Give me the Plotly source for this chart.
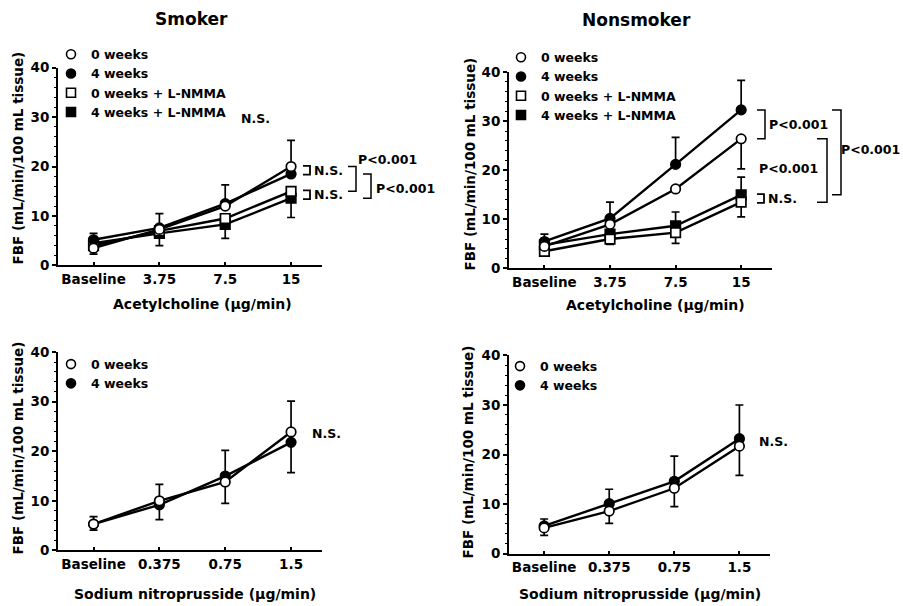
import plotly.graph_objects as go

W, H = 903, 606

# ---------------- data ----------------
ach_doses = ["Baseline", "3.75", "7.5", "15"]
snp_doses = ["Baseline", "0.375", "0.75", "1.5"]

# Smoker, acetylcholine
smk_ach_0w = [3.5, 7.3, 12.0, 20.0]
smk_ach_0w_up = [0, 0, 0, 5.3]
smk_ach_0w_dn = [1.2, 0, 0, 0]
smk_ach_4w = [5.2, 7.6, 12.5, 18.5]
smk_ach_4w_up = [1.3, 2.9, 3.8, 0]
smk_ach_4w_dn = [0, 0, 0, 0]
smk_ach_0w_nmma = [4.0, 7.0, 9.5, 15.0]
smk_ach_0w_nmma_up = [0, 0, 0, 0]
smk_ach_0w_nmma_dn = [0, 0, 0, 0]
smk_ach_4w_nmma = [4.5, 6.5, 8.3, 13.6]
smk_ach_4w_nmma_up = [0, 0, 0, 0]
smk_ach_4w_nmma_dn = [0, 2.5, 2.8, 3.9]

# Nonsmoker, acetylcholine
non_ach_0w = [4.5, 9.0, 16.2, 26.4]
non_ach_0w_up = [0, 0, 0, 0]
non_ach_0w_dn = [0, 0, 0, 6.1]
non_ach_4w = [5.5, 10.2, 21.2, 32.3]
non_ach_4w_up = [1.5, 3.3, 5.5, 6.0]
non_ach_4w_dn = [0, 0, 0, 0]
non_ach_0w_nmma = [3.5, 6.0, 7.3, 13.5]
non_ach_0w_nmma_up = [0, 0, 0, 0]
non_ach_0w_nmma_dn = [1.0, 1.1, 2.2, 3.0]
non_ach_4w_nmma = [4.8, 7.0, 8.7, 15.0]
non_ach_4w_nmma_up = [0, 0, 2.8, 3.6]
non_ach_4w_nmma_dn = [0, 0, 0, 0]

# Smoker, sodium nitroprusside
smk_snp_0w = [5.3, 10.0, 13.8, 23.9]
smk_snp_0w_up = [1.5, 3.3, 0, 6.2]
smk_snp_0w_dn = [0, 0, 4.3, 0]
smk_snp_4w = [5.3, 9.2, 15.0, 21.8]
smk_snp_4w_up = [0, 0, 5.2, 0]
smk_snp_4w_dn = [1.2, 3.0, 0, 6.1]

# Nonsmoker, sodium nitroprusside
non_snp_0w = [5.2, 8.6, 13.2, 21.7]
non_snp_0w_up = [0, 0, 0, 0]
non_snp_0w_dn = [1.5, 2.5, 3.7, 5.9]
non_snp_4w = [5.6, 10.1, 14.6, 23.2]
non_snp_4w_up = [1.4, 2.9, 5.1, 6.8]
non_snp_4w_dn = [0, 0, 0, 0]

series_names = ["0 weeks", "4 weeks", "0 weeks + L-NMMA", "4 weeks + L-NMMA"]
y_ticks = [0, 10, 20, 30, 40]

# ---------------- layout helpers ----------------
# the rendered page shows the figure with a small vertical offset/scale;
# target pixel rows are mapped back to layout rows here.
V_OFF, V_SCALE = 7.4, 0.974

def px(x):
    return x / W

def py(y):
    return 1 - ((y - V_OFF) / V_SCALE) / H

# plot areas in target pixels: (left, right, y_of_0, y_of_40)
areas = {
    1: (58, 322, 265, 67),
    2: (509, 772, 268, 71.5),
    3: (58, 322, 550, 351.7),
    4: (509, 770, 553.3, 355),
}
YR = [0, 40]
XR = [-0.54, 3.47]

def ydom(k):
    a = areas[k]
    return [py(a[2]), py(a[3])]

def yp(val, k):
    d = ydom(k)
    return d[0] + (val - YR[0]) / (YR[1] - YR[0]) * (d[1] - d[0])

styles = {
    "0 weeks": dict(symbol="circle", color="white"),
    "4 weeks": dict(symbol="circle", color="black"),
    "0 weeks + L-NMMA": dict(symbol="square", color="white"),
    "4 weeks + L-NMMA": dict(symbol="square", color="black"),
}

fig = go.Figure()

def add_series(k, x, y, up, dn, name):
    st = styles[name]
    fig.add_trace(go.Scatter(
        x=x, y=y, mode="lines+markers", name=name, showlegend=False,
        xaxis="x" if k == 1 else f"x{k}", yaxis="y" if k == 1 else f"y{k}",
        line=dict(color="black", width=2.4),
        marker=dict(symbol=st["symbol"], size=9.5, color=st["color"],
                    line=dict(color="black", width=1.7)),
        error_y=dict(type="data", symmetric=False, array=up, arrayminus=dn,
                     color="black", thickness=1.7, width=4),
        cliponaxis=False,
    ))

def add_legend(k, names):
    lg = "legend" if k == 1 else f"legend{k}"
    for name in names:
        st = styles[name]
        fig.add_trace(go.Scatter(
            x=[None], y=[None], mode="markers", name=name, legend=lg,
            xaxis="x" if k == 1 else f"x{k}", yaxis="y" if k == 1 else f"y{k}",
            marker=dict(symbol=st["symbol"], size=9, color=st["color"],
                        line=dict(color="black", width=1.6)),
        ))

# panel 1: smoker ACh
add_series(1, ach_doses, smk_ach_4w_nmma, smk_ach_4w_nmma_up, smk_ach_4w_nmma_dn, "4 weeks + L-NMMA")
add_series(1, ach_doses, smk_ach_0w_nmma, smk_ach_0w_nmma_up, smk_ach_0w_nmma_dn, "0 weeks + L-NMMA")
add_series(1, ach_doses, smk_ach_4w, smk_ach_4w_up, smk_ach_4w_dn, "4 weeks")
add_series(1, ach_doses, smk_ach_0w, smk_ach_0w_up, smk_ach_0w_dn, "0 weeks")
add_legend(1, series_names)

# panel 2: nonsmoker ACh
add_series(2, ach_doses, non_ach_4w_nmma, non_ach_4w_nmma_up, non_ach_4w_nmma_dn, "4 weeks + L-NMMA")
add_series(2, ach_doses, non_ach_0w_nmma, non_ach_0w_nmma_up, non_ach_0w_nmma_dn, "0 weeks + L-NMMA")
add_series(2, ach_doses, non_ach_4w, non_ach_4w_up, non_ach_4w_dn, "4 weeks")
add_series(2, ach_doses, non_ach_0w, non_ach_0w_up, non_ach_0w_dn, "0 weeks")
add_legend(2, series_names)

# panel 3: smoker SNP
add_series(3, snp_doses, smk_snp_4w, smk_snp_4w_up, smk_snp_4w_dn, "4 weeks")
add_series(3, snp_doses, smk_snp_0w, smk_snp_0w_up, smk_snp_0w_dn, "0 weeks")
add_legend(3, series_names[:2])

# panel 4: nonsmoker SNP
add_series(4, snp_doses, non_snp_4w, non_snp_4w_up, non_snp_4w_dn, "4 weeks")
add_series(4, snp_doses, non_snp_0w, non_snp_0w_up, non_snp_0w_dn, "0 weeks")
add_legend(4, series_names[:2])

# axes
axes = {}
for k in range(1, 5):
    a = areas[k]
    xn = "xaxis" if k == 1 else f"xaxis{k}"
    yn = "yaxis" if k == 1 else f"yaxis{k}"
    axes[xn] = dict(
        domain=[px(a[0]), px(a[1])], anchor="y" if k == 1 else f"y{k}",
        type="category", range=XR, showline=True, linecolor="black", linewidth=2,
        ticks="inside", ticklen=3, tickwidth=1.5, tickcolor="black",
        showgrid=False, zeroline=False, tickfont=dict(size=13.5),
        fixedrange=True,
    )
    axes[yn] = dict(
        domain=ydom(k), anchor="x" if k == 1 else f"x{k}",
        range=YR, tickvals=y_ticks, showline=True, linecolor="black", linewidth=2,
        ticks="outside", ticklen=4, tickwidth=1.5, tickcolor="black",
        minor=dict(dtick=2, ticks="outside", ticklen=2, tickcolor="black", tickwidth=1),
        showgrid=False, zeroline=False, tickfont=dict(size=13.5),
        fixedrange=True,
    )

legend_common = dict(xanchor="left", yanchor="top", bgcolor="rgba(0,0,0,0)",
                     font=dict(size=12.5), borderwidth=0)
legends = {
    "legend": dict(x=px(51), y=py(39), **legend_common),
    "legend2": dict(x=px(501), y=py(42), **legend_common),
    "legend3": dict(x=px(51), y=py(349), **legend_common),
    "legend4": dict(x=px(500), y=py(351), **legend_common),
}

annotations = []
shapes = []

def ann(text, x, y, size=12.5, xanchor="center", angle=0):
    annotations.append(dict(text=text, x=x, y=y, xref="paper", yref="paper",
                            xanchor=xanchor, yanchor="middle", showarrow=False,
                            textangle=angle, font=dict(size=size)))

def bracket(x0, x1, v_top, v_bot, k):
    xa, xb = px(x0), px(x1)
    ya, yb = yp(v_top, k), yp(v_bot, k)
    shapes.append(dict(type="path", xref="paper", yref="paper",
                       path=f"M{xa},{ya} L{xb},{ya} L{xb},{yb} L{xa},{yb}",
                       line=dict(color="black", width=1.5)))

def ns_mark(x0, v_center, k):
    # small "⊐" bracket followed by N.S.
    yc = yp(v_center, k)
    h = 4.5 / H
    xa, xb = px(x0), px(x0 + 7)
    shapes.append(dict(type="path", xref="paper", yref="paper",
                       path=f"M{xa},{yc + h} L{xb},{yc + h} L{xb},{yc - h} L{xa},{yc - h}",
                       line=dict(color="black", width=1.8)))
    ann("N.S.", px(x0 + 9), yc, xanchor="left")

# titles
ann("Smoker", px(191), py(18), size=17)
ann("Nonsmoker", px(636), py(19), size=17)
# axis titles
ytitle = "FBF (mL/min/100 mL tissue)"
ann(ytitle, px(18), py(158), size=13.5, angle=-90)
ann(ytitle, px(470), py(164), size=13.5, angle=-90)
ann(ytitle, px(18), py(448), size=13.5, angle=-90)
ann(ytitle, px(468), py(451), size=13.5, angle=-90)
ann("Acetylcholine (µg/min)", px(202), py(304), size=14)
ann("Acetylcholine (µg/min)", px(655), py(305), size=14)
ann("Sodium nitroprusside (µg/min)", px(195), py(594), size=14)
ann("Sodium nitroprusside (µg/min)", px(640), py(594), size=14)

# statistics, panel 1
ann("N.S.", px(255), py(118))
ns_mark(303, (smk_ach_0w[3] + smk_ach_4w[3]) / 2, 1)
ns_mark(303, (smk_ach_0w_nmma[3] + smk_ach_4w_nmma[3]) / 2, 1)
ann("P<0.001", px(387), py(159))
ann("P<0.001", px(405), py(188))
bracket(348, 356, smk_ach_0w[3], smk_ach_0w_nmma[3], 1)
bracket(363, 371, smk_ach_4w[3], smk_ach_4w_nmma[3], 1)

# statistics, panel 2
ann("P<0.001", px(798), yp((non_ach_4w[3] + non_ach_0w[3]) / 2, 2))
ann("P<0.001", px(788), py(168))
ann("P<0.001", px(902), py(149), xanchor="right")
ns_mark(757, (non_ach_0w_nmma[3] + non_ach_4w_nmma[3]) / 2, 2)
bracket(757, 765, non_ach_4w[3], non_ach_0w[3], 2)
bracket(817, 827, non_ach_0w[3], non_ach_0w_nmma[3], 2)
bracket(832, 841, non_ach_4w[3], non_ach_4w_nmma[3], 2)

# statistics, panels 3-4
ann("N.S.", px(326), py(433))
ann("N.S.", px(773), py(441))

fig.update_layout(
    width=W, height=H, autosize=False,
    margin=dict(l=0, r=0, t=0, b=0),
    paper_bgcolor="white", plot_bgcolor="white",
    font=dict(family="DejaVu Sans", weight="bold", color="black", size=13),
    annotations=annotations, shapes=shapes,
    **axes, **legends,
)

page_css = (
    "var s=document.createElement('style');"
    "s.innerHTML='html,body{margin:0!important;padding:0!important;overflow:hidden;}"
    "body>div{font-size:0;line-height:0;}';"
    "document.head.appendChild(s);"
)

fig.write_html("out.html", config={"displayModeBar": False}, post_script=page_css)
